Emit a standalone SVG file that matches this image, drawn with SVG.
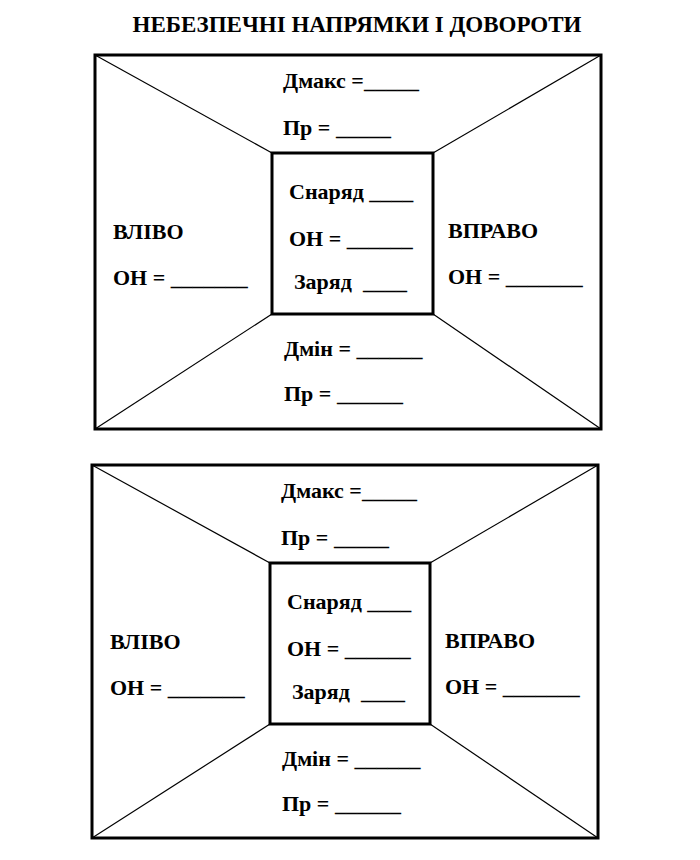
<svg xmlns="http://www.w3.org/2000/svg" width="700" height="860" viewBox="0 0 700 860">
<style>
  .t{font-family:"Liberation Serif","Times New Roman",serif;font-weight:bold;font-size:22px;fill:#000}
  .title{font-family:"Liberation Serif","Times New Roman",serif;font-weight:bold;font-size:23px;fill:#000}
  .outer{fill:none;stroke:#000;stroke-width:3}
  .inner{fill:none;stroke:#000;stroke-width:3}
  .diag{stroke:#000;stroke-width:1.2;fill:none}
</style>
<rect width="700" height="860" fill="#fff"/>
<text class="title" x="357" y="32" text-anchor="middle">НЕБЕЗПЕЧНІ НАПРЯМКИ І ДОВОРОТИ</text>

<g id="panel1">
  <g id="connectors1">
    <line class="diag" x1="95" y1="55" x2="272" y2="153"/>
    <line class="diag" x1="601" y1="55" x2="433" y2="153"/>
    <line class="diag" x1="95" y1="429" x2="272" y2="314"/>
    <line class="diag" x1="601" y1="429" x2="433" y2="314"/>
  </g>
  <g id="outer1"><rect class="outer" x="95" y="55" width="506" height="374"/></g>
  <g id="top1">
    <text class="t" x="283" y="88">Дмакс =_____</text>
    <text class="t" x="283" y="135">Пр = _____</text>
  </g>
  <g id="center1">
    <rect class="inner" x="272" y="153" width="161" height="161"/>
    <text class="t" x="289" y="199">Снаряд ____</text>
    <text class="t" x="289" y="246">ОН = ______</text>
    <text class="t" x="294" y="289" xml:space="preserve">Заряд  ____</text>
  </g>
  <g id="left1">
    <text class="t" x="113" y="239">ВЛІВО</text>
    <text class="t" x="113" y="285">ОН = _______</text>
  </g>
  <g id="right1">
    <text class="t" x="448" y="238">ВПРАВО</text>
    <text class="t" x="448" y="284">ОН = _______</text>
  </g>
  <g id="bottom1">
    <text class="t" x="284" y="356">Дмін = ______</text>
    <text class="t" x="284" y="401">Пр = ______</text>
  </g>
</g>

<g id="panel2">
  <g id="connectors2">
    <line class="diag" x1="92" y1="465" x2="270" y2="563"/>
    <line class="diag" x1="598" y1="465" x2="430" y2="563"/>
    <line class="diag" x1="92" y1="838" x2="270" y2="724"/>
    <line class="diag" x1="598" y1="838" x2="430" y2="724"/>
  </g>
  <g id="outer2"><rect class="outer" x="92" y="465" width="506" height="373"/></g>
  <g id="top2">
    <text class="t" x="281" y="498">Дмакс =_____</text>
    <text class="t" x="281" y="545">Пр = _____</text>
  </g>
  <g id="center2">
    <rect class="inner" x="270" y="563" width="160" height="161"/>
    <text class="t" x="287" y="609">Снаряд ____</text>
    <text class="t" x="287" y="656">ОН = ______</text>
    <text class="t" x="292" y="699" xml:space="preserve">Заряд  ____</text>
  </g>
  <g id="left2">
    <text class="t" x="110" y="649">ВЛІВО</text>
    <text class="t" x="110" y="695">ОН = _______</text>
  </g>
  <g id="right2">
    <text class="t" x="445" y="648">ВПРАВО</text>
    <text class="t" x="445" y="694">ОН = _______</text>
  </g>
  <g id="bottom2">
    <text class="t" x="282" y="766">Дмін = ______</text>
    <text class="t" x="282" y="811">Пр = ______</text>
  </g>
</g>
</svg>
